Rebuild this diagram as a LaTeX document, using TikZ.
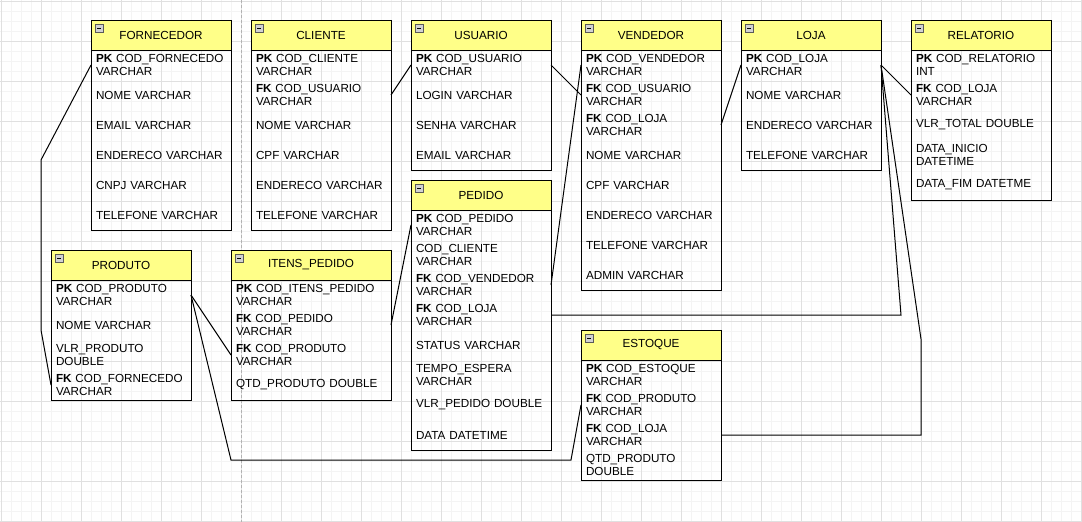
\documentclass[tikz,border=0pt]{standalone}
\usepackage{fontspec}
\setmainfont{Liberation Sans}
\usepackage{tikz}
\usetikzlibrary{positioning}
\definecolor{amarelo}{HTML}{FFFF88}
\definecolor{gradefina}{HTML}{F4F4F4}
\definecolor{gradegrossa}{HTML}{E0E0E0}
\tikzset{
  tabela/.style={draw, line width=1pt, fill=amarelo, anchor=north west, outer sep=0pt,
    minimum width=140pt, minimum height=30pt, inner sep=0pt,
    font=\fontsize{11.7}{13}\selectfont},
  campo/.style={anchor=north west, text width=130pt, align=left, inner xsep=5pt,
    inner ysep=0pt, outer sep=0pt, minimum height=30pt,
    font=\fontsize{11.7}{13}\selectfont},
  borda/.style={line width=1pt},
  ligacao/.style={line width=1pt},
  icone/.style={draw=gray!70!black, fill=gray!35, line width=0.8pt}
}
\newcommand{\icone}[1]{%
  \draw[icone] ([shift={(4,4)}]#1.north west) rectangle +(8,8);
  \draw[line width=1pt] ([shift={(6,8)}]#1.north west) -- +(4,0);}

\begin{document}
\begin{tikzpicture}[x=1pt,y=-1pt]

\useasboundingbox (0,0) rectangle (1082,522);

% Grid
\foreach \gx in {1,11,...,1081} \draw[gradefina] (\gx,0) -- (\gx,522);
\foreach \gy in {1,11,...,521} \draw[gradefina] (0,\gy) -- (1082,\gy);
\foreach \gx in {1,41,...,1081} \draw[gradegrossa] (\gx,0) -- (\gx,522);
\foreach \gy in {1,41,...,521} \draw[gradegrossa] (0,\gy) -- (1082,\gy);
\draw[gray!60, dash pattern=on 3pt off 2pt] (241,0) -- (241,522);

% FORNECEDOR
\node[tabela] (forn) at (91,20) {FORNECEDOR};
\node[campo] (forn-pk) at (forn.south west) {\textbf{PK} COD\_FORNECEDO\\VARCHAR};
\node[campo] (forn-nome) at (forn-pk.south west) {NOME VARCHAR};
\node[campo] (forn-email) at (forn-nome.south west) {EMAIL VARCHAR};
\node[campo] (forn-end) at (forn-email.south west) {ENDERECO VARCHAR};
\node[campo] (forn-cnpj) at (forn-end.south west) {CNPJ VARCHAR};
\node[campo] (forn-tel) at (forn-cnpj.south west) {TELEFONE VARCHAR};
\draw[borda] (forn.south west) rectangle (forn-tel.south east);
\icone{forn}

% CLIENTE
\node[tabela] (cli) at (251,20) {CLIENTE};
\node[campo] (cli-pk) at (cli.south west) {\textbf{PK} COD\_CLIENTE\\VARCHAR};
\node[campo] (cli-fk) at (cli-pk.south west) {\textbf{FK} COD\_USUARIO\\VARCHAR};
\node[campo] (cli-nome) at (cli-fk.south west) {NOME VARCHAR};
\node[campo] (cli-cpf) at (cli-nome.south west) {CPF VARCHAR};
\node[campo] (cli-end) at (cli-cpf.south west) {ENDERECO VARCHAR};
\node[campo] (cli-tel) at (cli-end.south west) {TELEFONE VARCHAR};
\draw[borda] (cli.south west) rectangle (cli-tel.south east);
\icone{cli}

% USUARIO
\node[tabela] (usu) at (411,20) {USUARIO};
\node[campo] (usu-pk) at (usu.south west) {\textbf{PK} COD\_USUARIO\\VARCHAR};
\node[campo] (usu-login) at (usu-pk.south west) {LOGIN VARCHAR};
\node[campo] (usu-senha) at (usu-login.south west) {SENHA VARCHAR};
\node[campo] (usu-email) at (usu-senha.south west) {EMAIL VARCHAR};
\draw[borda] (usu.south west) rectangle (usu-email.south east);
\icone{usu}

% PEDIDO
\node[tabela] (ped) at (411,180) {PEDIDO};
\node[campo] (ped-pk) at (ped.south west) {\textbf{PK} COD\_PEDIDO\\VARCHAR};
\node[campo] (ped-cli) at (ped-pk.south west) {COD\_CLIENTE\\VARCHAR};
\node[campo] (ped-fkvend) at (ped-cli.south west) {\textbf{FK} COD\_VENDEDOR\\VARCHAR};
\node[campo] (ped-fkloja) at (ped-fkvend.south west) {\textbf{FK} COD\_LOJA\\VARCHAR};
\node[campo] (ped-status) at (ped-fkloja.south west) {STATUS VARCHAR};
\node[campo] (ped-tempo) at (ped-status.south west) {TEMPO\_ESPERA\\VARCHAR};
\node[campo] (ped-vlr) at (ped-tempo.south west) {VLR\_PEDIDO DOUBLE};
\node[campo] (ped-data) at (ped-vlr.south west) {DATA DATETIME};
\draw[borda] (ped.south west) rectangle (ped-data.south east);
\icone{ped}

% VENDEDOR
\node[tabela] (vend) at (581,20) {VENDEDOR};
\node[campo] (vend-pk) at (vend.south west) {\textbf{PK} COD\_VENDEDOR\\VARCHAR};
\node[campo] (vend-fkusu) at (vend-pk.south west) {\textbf{FK} COD\_USUARIO\\VARCHAR};
\node[campo] (vend-fkloja) at (vend-fkusu.south west) {\textbf{FK} COD\_LOJA\\VARCHAR};
\node[campo] (vend-nome) at (vend-fkloja.south west) {NOME VARCHAR};
\node[campo] (vend-cpf) at (vend-nome.south west) {CPF VARCHAR};
\node[campo] (vend-end) at (vend-cpf.south west) {ENDERECO VARCHAR};
\node[campo] (vend-tel) at (vend-end.south west) {TELEFONE VARCHAR};
\node[campo] (vend-admin) at (vend-tel.south west) {ADMIN VARCHAR};
\draw[borda] (vend.south west) rectangle (vend-admin.south east);
\icone{vend}

% LOJA
\node[tabela] (loja) at (741,20) {LOJA};
\node[campo] (loja-pk) at (loja.south west) {\textbf{PK} COD\_LOJA\\VARCHAR};
\node[campo] (loja-nome) at (loja-pk.south west) {NOME VARCHAR};
\node[campo] (loja-end) at (loja-nome.south west) {ENDERECO VARCHAR};
\node[campo] (loja-tel) at (loja-end.south west) {TELEFONE VARCHAR};
\draw[borda] (loja.south west) rectangle (loja-tel.south east);
\icone{loja}

% RELATORIO
\node[tabela] (rel) at (911,20) {RELATORIO};
\node[campo] (rel-pk) at (rel.south west) {\textbf{PK} COD\_RELATORIO\\INT};
\node[campo] (rel-fk) at (rel-pk.south west) {\textbf{FK} COD\_LOJA\\VARCHAR};
\node[campo] (rel-total) at (rel-fk.south west) {VLR\_TOTAL DOUBLE};
\node[campo] (rel-inicio) at (rel-total.south west) {DATA\_INICIO\\DATETIME};
\node[campo] (rel-fim) at (rel-inicio.south west) {DATA\_FIM DATETME};
\draw[borda] (rel.south west) rectangle (rel-fim.south east);
\icone{rel}

% PRODUTO
\node[tabela] (prod) at (51,250) {PRODUTO};
\node[campo] (prod-pk) at (prod.south west) {\textbf{PK} COD\_PRODUTO\\VARCHAR};
\node[campo] (prod-nome) at (prod-pk.south west) {NOME VARCHAR};
\node[campo] (prod-vlr) at (prod-nome.south west) {VLR\_PRODUTO\\DOUBLE};
\node[campo] (prod-fk) at (prod-vlr.south west) {\textbf{FK} COD\_FORNECEDO\\VARCHAR};
\draw[borda] (prod.south west) rectangle (prod-fk.south east);
\icone{prod}

% ITENS_PEDIDO
\node[tabela, minimum width=160pt] (itens) at (231,250) {ITENS\_PEDIDO};
\node[campo, text width=150pt] (itens-pk) at (itens.south west) {\textbf{PK} COD\_ITENS\_PEDIDO\\VARCHAR};
\node[campo, text width=150pt] (itens-fkped) at (itens-pk.south west) {\textbf{FK} COD\_PEDIDO\\VARCHAR};
\node[campo, text width=150pt] (itens-fkprod) at (itens-fkped.south west) {\textbf{FK} COD\_PRODUTO\\VARCHAR};
\node[campo, text width=150pt] (itens-qtd) at (itens-fkprod.south west) {QTD\_PRODUTO DOUBLE};
\draw[borda] (itens.south west) rectangle (itens-qtd.south east);
\icone{itens}

% ESTOQUE
\node[tabela] (est) at (581,330) {ESTOQUE};
\node[campo] (est-pk) at (est.south west) {\textbf{PK} COD\_ESTOQUE\\VARCHAR};
\node[campo] (est-fkprod) at (est-pk.south west) {\textbf{FK} COD\_PRODUTO\\VARCHAR};
\node[campo] (est-fkloja) at (est-fkprod.south west) {\textbf{FK} COD\_LOJA\\VARCHAR};
\node[campo] (est-qtd) at (est-fkloja.south west) {QTD\_PRODUTO\\DOUBLE};
\draw[borda] (est.south west) rectangle (est-qtd.south east);
\icone{est}

% Ligacoes
\draw[ligacao] (forn-pk.west) -- (41,160) -- (41,330) -- (prod-fk.west);
\draw[ligacao] (cli-fk.east) -- (usu-pk.west);
\draw[ligacao] (usu-pk.east) -- (vend-fkusu.west);
\draw[ligacao] (vend-fkloja.east) -- (loja-pk.west);
\draw[ligacao] (loja-pk.east) -- (rel-fk.west);
\draw[ligacao] (loja-pk.east) -- (901,315) -- (ped-fkloja.east);
\draw[ligacao] (loja-pk.east) -- (921,339) -- (921,435) -- (est-fkloja.east);
\draw[ligacao] (ped-fkvend.east) -- (vend-pk.west);
\draw[ligacao] (itens-fkped.east) -- (ped-pk.west);
\draw[ligacao] (prod-pk.east) -- (itens-fkprod.west);
\draw[ligacao] (prod-pk.east) -- (231,460) -- (571,460) -- (est-fkprod.west);

\end{tikzpicture}
\end{document}
